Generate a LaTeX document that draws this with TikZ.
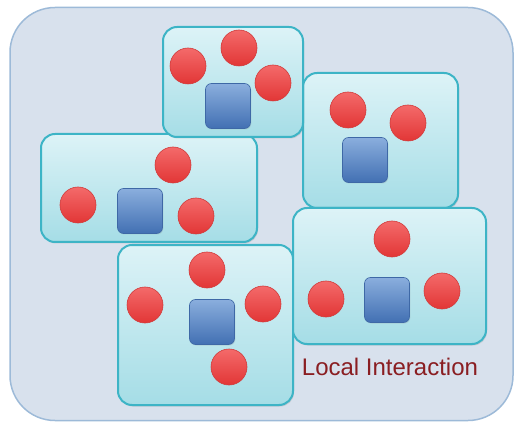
\documentclass[tikz,border=0pt]{standalone}
\usepackage{fontspec}
\setmainfont{Liberation Sans}
\usetikzlibrary{shadows}
\definecolor{outerfill}{HTML}{D8E1ED}
\definecolor{outerdraw}{HTML}{9DBAD8}
\definecolor{grptop}{HTML}{DDF3F7}
\definecolor{grpbot}{HTML}{A5DDE6}
\definecolor{grpdraw}{HTML}{3DB4C6}
\definecolor{redtop}{HTML}{F46A6A}
\definecolor{redbot}{HTML}{E23636}
\definecolor{reddraw}{HTML}{D23A3A}
\definecolor{bluetop}{HTML}{8AAEDD}
\definecolor{bluebot}{HTML}{4270B3}
\definecolor{bluedraw}{HTML}{3E68A6}
\definecolor{labelred}{HTML}{8A1E22}
\tikzset{
  grp/.style={rectangle, rounded corners=14pt, draw=grpdraw, line width=2pt,
    top color=grptop, bottom color=grpbot, inner sep=0pt, outer sep=0pt,
    drop shadow={opacity=0.25, shadow xshift=1pt, shadow yshift=-1.5pt}},
  ball/.style={circle, minimum size=36pt, inner sep=0pt, draw=reddraw, line width=0.6pt,
    top color=redtop, bottom color=redbot},
  sq/.style={rectangle, rounded corners=6pt, minimum size=45pt, inner sep=0pt,
    draw=bluedraw, line width=0.6pt, top color=bluetop, bottom color=bluebot,
    drop shadow={opacity=0.2, shadow xshift=0.8pt, shadow yshift=-1pt}},
}
\begin{document}
\begin{tikzpicture}[x=1pt,y=-1pt]
\useasboundingbox (0,0) rectangle (514,422);
\node[rectangle, rounded corners=45pt, fill=outerfill, draw=outerdraw, line width=1.5pt,
  minimum width=503pt, minimum height=413pt, inner sep=0pt] (outer) at (261.5,214) {};
% group 3 (left middle)
\node[grp, minimum width=216pt, minimum height=108pt] (g3) at (149,188) {};
\node[ball] (c31) at (173,165) {};
\node[ball] (c32) at (78,205) {};
\node[ball] (c33) at (196,216) {};
\node[sq] (s3) at (140,211) {};
% group 2 (right top)
\node[grp, minimum width=155pt, minimum height=135pt] (g2) at (380.5,140.5) {};
\node[ball] (c21) at (348,110) {};
\node[ball] (c22) at (408,123) {};
\node[sq] (s2) at (365,160) {};
% group 4 (bottom middle)
\node[grp, minimum width=175pt, minimum height=160pt] (g4) at (205.5,325) {};
\node[ball] (c41) at (207,270) {};
\node[ball] (c42) at (145,305) {};
\node[ball] (c43) at (263,304) {};
\node[sq] (s4) at (212,322) {};
\node[ball] (c44) at (229,367) {};
% group 1 (top)
\node[grp, minimum width=140pt, minimum height=110pt] (g1) at (233,82) {};
\node[ball] (c11) at (188,66) {};
\node[ball] (c12) at (239,48) {};
\node[ball] (c13) at (273,83) {};
\node[sq] (s1) at (228,106) {};
% group 5 (bottom right)
\node[grp, minimum width=193pt, minimum height=136pt] (g5) at (389.5,276) {};
\node[ball] (c51) at (392,239) {};
\node[ball] (c52) at (326,299) {};
\node[ball] (c53) at (442,291) {};
\node[sq] (s5) at (387,300) {};
% label
\node[text=labelred, font=\fontsize{24}{27}\selectfont, inner sep=0pt] (lbl) at (390,367) {Local Interaction};
\end{tikzpicture}
\end{document}
